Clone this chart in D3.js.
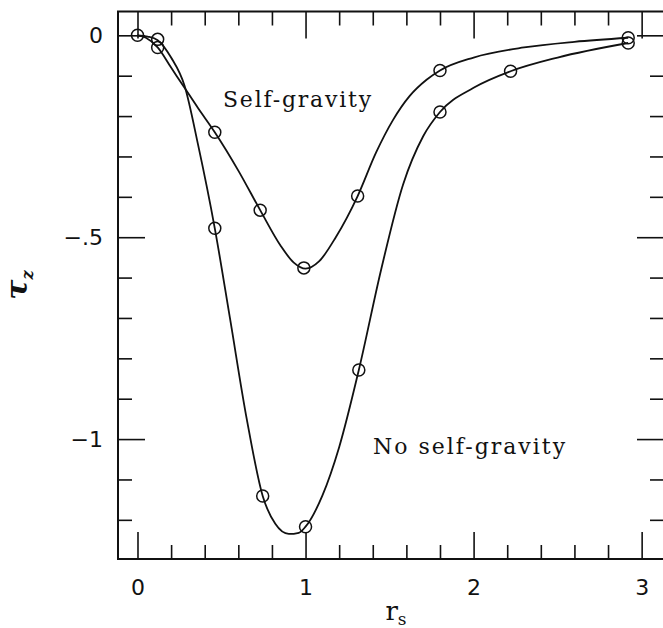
<!DOCTYPE html>
<html lang="en">
<head>
<meta charset="UTF-8">
<title>tau_z vs r_s</title>
<style>
    body { margin: 0; background: #fff; }
    svg { display: block; }
    .tick text { font-family: "DejaVu Sans", sans-serif; font-size: 22px; fill: #111; }
    .tick line { stroke: #111; stroke-width: 1.6; }
    .lbl { font-family: "DejaVu Serif", serif; fill: #111; }
</style>
<script src="https://d3js.org/d3.v7.min.js"></script>
</head>
<body>
<svg id="chart" width="663" height="628"></svg>
<script>
// curve samples
const selfX = [0, 0.05, 0.12, 0.2, 0.28, 0.36, 0.46, 0.6, 0.73, 0.85, 0.93, 1.0, 1.08, 1.18, 1.31, 1.42, 1.52, 1.62, 1.72, 1.8, 2.0, 2.3, 2.6, 2.92];
const selfY = [0, -0.006, -0.03, -0.08, -0.13, -0.18, -0.24, -0.335, -0.433, -0.52, -0.563, -0.578, -0.56, -0.5, -0.398, -0.29, -0.21, -0.15, -0.11, -0.087, -0.055, -0.03, -0.016, -0.006];
const noSelfX = [0, 0.06, 0.12, 0.2, 0.28, 0.36, 0.46, 0.55, 0.65, 0.745, 0.82, 0.9, 0.96, 1.0, 1.1, 1.2, 1.317, 1.45, 1.58, 1.7, 1.8, 2.0, 2.22, 2.5, 2.92];
const noSelfY = [0, -0.003, -0.012, -0.055, -0.125, -0.27, -0.478, -0.7, -0.95, -1.141, -1.21, -1.235, -1.232, -1.217, -1.14, -1.02, -0.829, -0.58, -0.37, -0.25, -0.19, -0.13, -0.089, -0.055, -0.019];

// plotted markers
const selfPtsX = [0, 0.12, 0.46, 0.73, 0.99, 1.31, 1.8, 2.92];
const selfPtsY = [0, -0.03, -0.24, -0.433, -0.576, -0.398, -0.087, -0.006];
const noSelfPtsX = [0.12, 0.46, 0.745, 1.0, 1.317, 1.8, 2.22, 2.92];
const noSelfPtsY = [-0.01, -0.478, -1.141, -1.217, -0.829, -0.19, -0.089, -0.019];

const xMajor = [0, 1, 2, 3];
const xMinor = [0.2, 0.4, 0.6, 0.8, 1.2, 1.4, 1.6, 1.8, 2.2, 2.4, 2.6, 2.8];
const yMajor = [0, -0.5, -1];
const yMajorLabels = ["0", "\u2212.5", "\u22121"];
const yMinor = [-0.1, -0.2, -0.3, -0.4, -0.6, -0.7, -0.8, -0.9, -1.1, -1.2];

const svg = d3.select("#chart");
const fLeft = 118, fRight = 664, fTop = 11.5, fBottom = 559;

const x = d3.scaleLinear().domain([-0.116, 3.133]).range([fLeft, fRight]);
const y = d3.scaleLinear().domain([0.059, -1.297]).range([fTop, fBottom]);

const major = 27, minor = 14;

// ticks on all four sides, pointing inward
svg.append("g").attr("transform", `translate(0,${fBottom})`)
    .call(d3.axisBottom(x).tickValues(xMinor).tickSize(-minor).tickFormat(""));
svg.append("g").attr("transform", `translate(0,${fBottom})`)
    .call(d3.axisBottom(x).tickValues(xMajor).tickSize(-major).tickPadding(20).tickFormat(d3.format("d")));
svg.append("g").attr("transform", `translate(0,${fTop})`)
    .call(d3.axisTop(x).tickValues(xMinor).tickSize(-minor).tickFormat(""));
svg.append("g").attr("transform", `translate(0,${fTop})`)
    .call(d3.axisTop(x).tickValues(xMajor).tickSize(-major).tickFormat(""));

svg.append("g").attr("transform", `translate(${fLeft},0)`)
    .call(d3.axisLeft(y).tickValues(yMinor).tickSize(-minor).tickFormat(""));
svg.append("g").attr("transform", `translate(${fLeft},0)`)
    .call(d3.axisLeft(y).tickValues(yMajor).tickSize(-major).tickPadding(15)
        .tickFormat((d, i) => yMajorLabels[i]));
svg.append("g").attr("transform", `translate(${fRight},0)`)
    .call(d3.axisRight(y).tickValues(yMinor).tickSize(-minor).tickFormat(""));
svg.append("g").attr("transform", `translate(${fRight},0)`)
    .call(d3.axisRight(y).tickValues(yMajor).tickSize(-major).tickFormat(""));

svg.selectAll(".domain").remove();

svg.append("rect")
    .attr("x", fLeft).attr("y", fTop)
    .attr("width", fRight - fLeft).attr("height", fBottom - fTop)
    .attr("fill", "none").attr("stroke", "#111").attr("stroke-width", 2);

const line = d3.line()
    .x(d => x(d[0]))
    .y(d => y(d[1]))
    .curve(d3.curveMonotoneX);

[[selfX, selfY], [noSelfX, noSelfY]].forEach(([xs, ys]) => {
    svg.append("path")
        .datum(xs.map((v, i) => [v, ys[i]]))
        .attr("d", line)
        .attr("fill", "none")
        .attr("stroke", "#111")
        .attr("stroke-width", 1.8);
});

[[selfPtsX, selfPtsY], [noSelfPtsX, noSelfPtsY]].forEach(([xs, ys]) => {
    svg.append("g").selectAll("circle")
        .data(xs.map((v, i) => [v, ys[i]]))
        .enter().append("circle")
        .attr("cx", d => x(d[0]))
        .attr("cy", d => y(d[1]))
        .attr("r", 6)
        .attr("fill", "none")
        .attr("stroke", "#111")
        .attr("stroke-width", 1.5);
});

// curve labels
svg.append("text").attr("class", "lbl")
    .attr("x", 223).attr("y", 107)
    .attr("font-size", 22).attr("letter-spacing", 1.8)
    .text("Self-gravity");
svg.append("text").attr("class", "lbl")
    .attr("x", 373).attr("y", 454)
    .attr("font-size", 22).attr("letter-spacing", 2)
    .text("No self-gravity");

// axis titles
const xt = svg.append("text").attr("class", "lbl")
    .attr("x", 396).attr("y", 620)
    .attr("text-anchor", "middle")
    .attr("font-size", 26);
xt.append("tspan").text("r");
xt.append("tspan").attr("font-size", 17).attr("dy", 5).text("s");

const yt = svg.append("text").attr("class", "lbl")
    .attr("transform", "translate(27,285) rotate(-90)")
    .attr("text-anchor", "middle")
    .attr("font-size", 30)
    .attr("font-weight", "bold")
    .attr("font-style", "italic");
yt.append("tspan").text("\u03c4");
yt.append("tspan").attr("font-size", 16).attr("dy", 6).text("z");
</script>
</body>
</html>
